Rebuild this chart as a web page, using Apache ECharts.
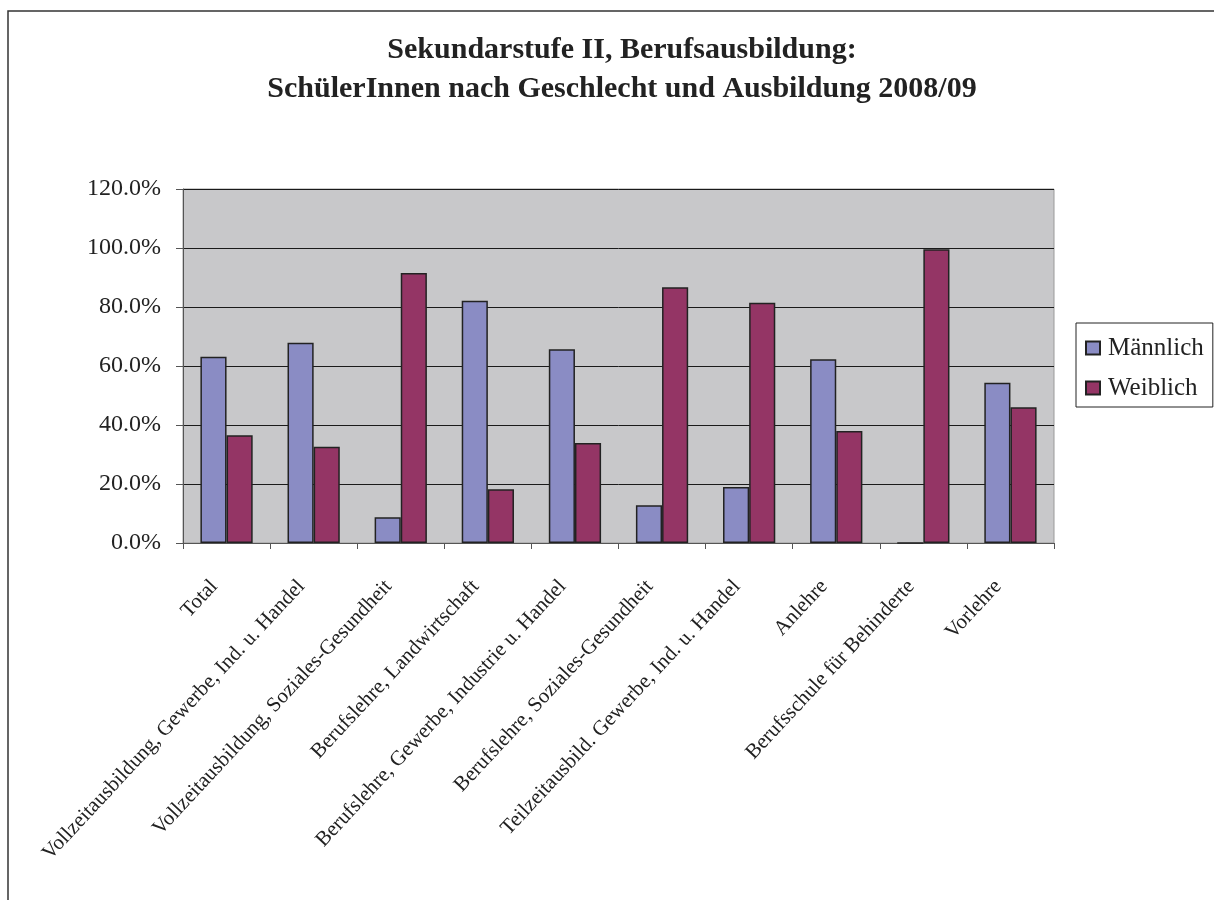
<!DOCTYPE html>
<html>
<head>
<meta charset="utf-8">
<script src="https://cdn.jsdelivr.net/npm/echarts@6/dist/echarts.min.js"></script>
<style>html,body{margin:0;padding:0;background:#fff}#c{width:1214px;height:900px}</style>
</head>
<body>
<div id="c"></div>
<script>
const categories = [
  "Total",
  "Vollzeitausbildung, Gewerbe, Ind. u. Handel",
  "Vollzeitausbildung, Soziales-Gesundheit",
  "Berufslehre, Landwirtschaft",
  "Berufslehre, Gewerbe, Industrie u. Handel",
  "Berufslehre, Soziales-Gesundheit",
  "Teilzeitausbild. Gewerbe, Ind. u. Handel",
  "Anlehre",
  "Berufsschule für Behinderte",
  "Vorlehre"
];
const maennlich = [63.1, 67.9, 8.7, 82.1, 65.7, 12.8, 19.0, 62.3, 0, 54.3];
const weiblich  = [36.5, 32.6, 91.5, 18.2, 33.9, 86.7, 81.4, 38.0, 99.6, 46.0];
const yTicks = [0, 20, 40, 60, 80, 100, 120];

const serif = '"Liberation Serif", "DejaVu Serif", serif';
const chart = echarts.init(document.getElementById('c'), null, {renderer: 'canvas'});
chart.setOption({
  animation: false,
  backgroundColor: '#fff',
  textStyle: {fontFamily: serif},
  graphic: [{
    type: 'rect', z: -10,
    shape: {x: 8, y: 11, width: 1400, height: 1000},
    style: {fill: 'none', stroke: '#333', lineWidth: 1.5}
  }],
  title: {
    text: 'Sekundarstufe II, Berufsausbildung:\nSchülerInnen nach Geschlecht und Ausbildung 2008/09',
    left: 617, top: 26, textAlign: 'center',
    textStyle: {fontFamily: serif, fontWeight: 'bold', fontSize: 30, lineHeight: 39, color: '#222'}
  },
  legend: {
    orient: 'vertical', left: 1076, top: 323,
    itemWidth: 14, itemHeight: 13, itemGap: 14,
    padding: [12, 9, 6, 9],
    backgroundColor: '#fff', borderColor: '#222', borderWidth: 1,
    icon: 'rect',
    textStyle: {fontFamily: serif, fontSize: 25, lineHeight: 26, color: '#222', padding: [0, 0, 0, 3]},
    data: ['Männlich', 'Weiblich']
  },
  grid: {
    left: 183, top: 189, right: 160, bottom: 357,
    show: true, backgroundColor: '#C8C8CA', borderColor: '#9a9a9a', borderWidth: 1,
    containLabel: false
  },
  xAxis: {
    type: 'category', data: categories,
    axisLine: {lineStyle: {color: '#555', width: 1}},
    axisTick: {show: true, length: 6, lineStyle: {color: '#555'}},
    axisLabel: {rotate: 47, margin: 27, interval: 0, fontFamily: serif, fontSize: 21, color: '#222',
      padding: [0, 18, 0, 0]}
  },
  yAxis: {
    type: 'value', min: yTicks[0], max: yTicks[yTicks.length - 1], interval: 20,
    axisLine: {show: true, lineStyle: {color: '#555', width: 1}},
    axisTick: {show: true, length: 7, inside: false, lineStyle: {color: '#555'}},
    splitLine: {show: true, lineStyle: {color: '#1a1a1a', width: 1}},
    axisLabel: {margin: 22, fontFamily: serif, fontSize: 24, color: '#222',
      formatter: v => v.toFixed(1) + '%'}
  },
  series: [
    {name: 'Männlich', type: 'bar', data: maennlich, barGap: '0%', barCategoryGap: '40%',
     itemStyle: {color: '#8A8CC4', borderColor: '#222', borderWidth: 1.5}},
    {name: 'Weiblich', type: 'bar', data: weiblich, barGap: '0%', barCategoryGap: '40%',
     itemStyle: {color: '#943565', borderColor: '#222', borderWidth: 1.5}}
  ]
});
</script>
</body>
</html>
